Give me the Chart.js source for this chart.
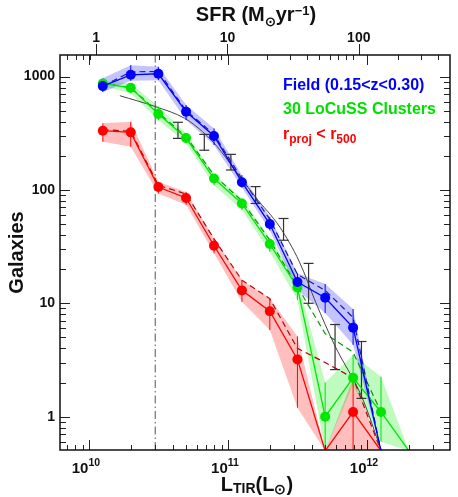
<!DOCTYPE html>
<html>
<head>
<meta charset="utf-8">
<script src="https://cdn.jsdelivr.net/npm/chart.js@4.4.1/dist/chart.umd.min.js"></script>
<style>
  html, body { margin: 0; padding: 0; background: #fff; }
  canvas { display: block; }
</style>
</head>
<body>
<canvas id="lirChart" width="458" height="497"></canvas>
<script>
// L_TIR bin centres (L_sun)
const lirBins = [1.26e10, 2.0e10, 3.16e10, 5.0e10, 7.94e10, 1.26e11, 2.0e11, 3.16e11, 5.0e11, 7.94e11, 1.26e12, 2.0e12];

// Field (0.15<z<0.30) - blue
const fieldN    = [824, 1037, 1059, 489, 299, 117, 50, 15.4, 11.2, 6.1, 0];
const fieldHi   = [968, 1260, 1220, 561, 349, 135, 58, 18.4, 14.8, 8.9, 0];
const fieldLo   = [730, 918, 930, 413, 249, 105, 44, 13.1, 8.2, 4.3, 0];
const fieldDash = [824, 1100, 1110, 500, 310, 125, 55, 18, 13, 7.5, 0];

// 30 LoCuSS clusters - green
const clusterN    = [871, 797, 467, 287, 126, 76, 33.3, 13.8, 1.0, 2.2, 1.1, 0];
const clusterHi   = [920, 870, 542, 316, 138, 84, 37.4, 16, 2.0, 3.5, 2.25, 0];
const clusterLo   = [820, 711, 413, 258, 110, 66.5, 28.5, 10.7, 0, 1.9, 0.6, 0];
const clusterDash = [871, 800, 480, 295, 135, 80, 36, 14, 5.4, 3.7, 1.1];

// r_proj < r_500 - red
const r500N    = [333, 322, 106, 85, 32.2, 13.0, 8.5, 3.2, 0, 1.1, 0];
const r500Hi   = [387, 399, 118, 96, 37.4, 16, 11, 5.1, 0, 2.2, 0];
const r500Lo   = [266, 240, 93, 74, 27.6, 10.3, 5.8, 1.2, 0, 0, 0];
const r500Dash = [340, 330, 110, 92, 37, 16, 11, 4.0, 3.0, 2.2, 0];

// black error bars
const refBins = [4.37e10, 6.76e10, 1.05e11, 1.58e11, 2.51e11, 3.80e11, 5.89e11, 9.12e11];
const refLo   = [285, 224, 150, 76, 36, 10, 2.6, 1.45];
const refHi   = [395, 309, 206, 107, 56, 22.5, 6.5, 4.6];

// black smooth curve
const fitL = [1.67e10, 3.0e10, 4.89e10, 6.58e10, 8.4e10, 1.10e11, 1.57e11, 2.36e11, 3.26e11, 4.29e11, 5.83e11, 9.16e11, 1.27e12];
const fitN = [678, 544, 428, 326, 240, 155, 87, 47, 23.3, 10.1, 4.3, 1.5, 0.5];

// completeness limit (dash-dot line)
const lirLimit = 3.0e10;

// axis ranges and tick labels
const lirMin = 6.2e9, lirMax = 3.95e12;
const sfrMin = 0.531, sfrMax = 495;
const nMin = 0.508, nMax = 1550;
const lirTickValues = [1e10, 1e11, 1e12];
const lirTickExps = ['10', '11', '12'];
const zeroLevel = 0.5;   // empty bins drawn on the bottom axis

const FONT = '"Liberation Sans", Arial, Helvetica, sans-serif';

function mant(v) {
  const e = Math.floor(Math.log10(v) + 1e-9);
  return v / Math.pow(10, e);
}
function niceTick(v) {
  const m = mant(v);
  return Math.abs(m - Math.round(m)) < 1e-6 && Math.round(m) >= 1 && Math.round(m) <= 9;
}
function isPow10(v) {
  return niceTick(v) && Math.round(mant(v)) === 1;
}

const pts = (xs, ys) => ys.map((y, i) => ({ x: xs[i], y: y > 0 ? y : zeroLevel }));
const radii = ys => ys.map(y => y > 0 ? 5 : 0);
function errSegs(xs, lo, hi, vals) {
  const out = [];
  xs.forEach((x, i) => {
    if (vals && !(vals[i] > 0)) return;
    out.push({ x, y: lo[i] > 0 ? lo[i] : zeroLevel }, { x, y: hi[i] > 0 ? hi[i] : zeroLevel }, { x, y: null });
  });
  return out;
}

function seriesSets(vals, hi, lo, dash, col, dashCol, bandCol) {
  const xs = lirBins.slice(0, vals.length);
  return [
    { data: pts(xs, hi), fill: '+1', backgroundColor: bandCol, borderColor: 'rgba(0,0,0,0)', borderWidth: 1, pointRadius: 0, order: 10 },
    { data: pts(xs, lo), fill: false, borderColor: 'rgba(0,0,0,0)', borderWidth: 1, pointRadius: 0, order: 10 },
    { data: pts(lirBins.slice(0, dash.length), dash), borderColor: dashCol, borderDash: [6, 4], borderWidth: 1.2, pointRadius: 0, order: 6 },
    { data: errSegs(xs, lo, hi, vals), borderColor: col, borderWidth: 1, pointRadius: 0, spanGaps: false, order: 3 },
    { data: pts(xs, vals), borderColor: col, backgroundColor: col, borderWidth: 1.3, pointRadius: radii(vals), pointBorderWidth: 0, order: 1 }
  ];
}

function drawRuns(ctx, runs, x, y) {
  runs.forEach(([t, size, dy]) => {
    ctx.font = 'bold ' + size + 'px ' + FONT;
    ctx.fillText(t, x, y + dy);
    x += ctx.measureText(t).width;
  });
}
function runsWidth(ctx, runs) {
  let w = 0;
  runs.forEach(([t, size]) => {
    ctx.font = 'bold ' + size + 'px ' + FONT;
    w += ctx.measureText(t).width;
  });
  return w;
}

// frame, inward ticks, superscript labels, titles and legend text
const decorPlugin = {
  id: 'decor',
  afterDraw(chart) {
    const { ctx, chartArea: a, scales } = chart;
    ctx.save();
    ctx.strokeStyle = '#222';
    ctx.lineWidth = 1;
    const seg = (x1, y1, x2, y2) => { ctx.beginPath(); ctx.moveTo(x1, y1); ctx.lineTo(x2, y2); ctx.stroke(); };

    scales.y.ticks.forEach(t => {
      if (!niceTick(t.value)) return;
      const len = isPow10(t.value) ? 10 : 6;
      const py = Math.round(scales.y.getPixelForValue(t.value)) + 0.5;
      seg(a.left, py, a.left + len, py);
      seg(a.right, py, a.right - len, py);
    });
    scales.x.ticks.forEach(t => {
      if (!niceTick(t.value)) return;
      const major = isPow10(t.value);
      const px = Math.round(scales.x.getPixelForValue(t.value)) + 0.5;
      seg(px, a.bottom, px, a.bottom - (major ? 10 : 5));
      if (major) seg(px, a.top, px, a.top + 10);
    });
    scales.x2.ticks.forEach(t => {
      if (!niceTick(t.value)) return;
      const px = Math.round(scales.x2.getPixelForValue(t.value)) + 0.5;
      if (isPow10(t.value)) seg(px, a.top, px, a.top - 11);
      else seg(px, a.top, px, a.top + 5);
    });
    ctx.lineWidth = 1.5;
    ctx.strokeStyle = '#111';
    ctx.strokeRect(a.left, a.top, a.right - a.left, a.bottom - a.top);

    ctx.fillStyle = '#111';
    ctx.textBaseline = 'alphabetic';
    ctx.textAlign = 'left';
    lirTickValues.forEach((v, i) => {
      const runs = [['10', 15, 0], [lirTickExps[i], 10.5, -7]];
      const w = runsWidth(ctx, runs);
      drawRuns(ctx, runs, scales.x.getPixelForValue(v) - w / 2 - 3, 473);
    });

    const cx = (a.left + a.right) / 2;
    const bottomTitle = [['L', 20, 0], ['TIR', 14, 2], ['(L', 20, 0], ['\u2299', 14, 3], [')', 20, 0]];
    drawRuns(ctx, bottomTitle, cx + 2 - runsWidth(ctx, bottomTitle) / 2, 491);
    const topTitle = [['SFR (M', 20, 0], ['\u2299', 13, 5], ['yr', 20, 0], ['\u22121', 13, -6], [')', 20, 0]];
    drawRuns(ctx, topTitle, cx + 1 - runsWidth(ctx, topTitle) / 2, 21);

    ctx.save();
    ctx.translate(23, (a.top + a.bottom) / 2);
    ctx.rotate(-Math.PI / 2);
    ctx.textAlign = 'center';
    ctx.font = 'bold 20px ' + FONT;
    ctx.fillText('Galaxies', 0, 0);
    ctx.restore();

    ctx.fillStyle = '#0000ff';
    drawRuns(ctx, [['Field (0.15<z<0.30)', 16, 0]], 283, 90);
    ctx.fillStyle = '#00e000';
    drawRuns(ctx, [['30 LoCuSS Clusters', 16, 0]], 283, 114);
    ctx.fillStyle = '#ff0000';
    drawRuns(ctx, [['r', 16, 0], ['proj', 12, 4], [' < r', 16, 0], ['500', 12, 4]], 283, 139);
    ctx.restore();
  }
};

document.addEventListener('DOMContentLoaded', function() {
  const ctx = document.getElementById('lirChart').getContext('2d');
  const tickFont = { family: FONT, size: 14, weight: 'bold' };

  const datasets = [].concat(
    seriesSets(fieldN, fieldHi, fieldLo, fieldDash, '#0000ff', '#1a1aa8', 'rgba(40,40,255,0.28)'),
    seriesSets(clusterN, clusterHi, clusterLo, clusterDash, '#00e600', '#009a00', 'rgba(0,235,0,0.25)'),
    seriesSets(r500N, r500Hi, r500Lo, r500Dash, '#ff0000', '#b40000', 'rgba(255,0,0,0.25)'),
    [
      { data: [{ x: lirLimit, y: nMin }, { x: lirLimit, y: nMax }], borderColor: '#555', borderWidth: 1, borderDash: [8, 3, 1.5, 3], pointRadius: 0, order: 9 },
      { data: pts(fitL, fitN), borderColor: '#444', borderWidth: 1, pointRadius: 0, cubicInterpolationMode: 'monotone', order: 5 },
      { data: errSegs(refBins, refLo, refHi), borderColor: '#333', borderWidth: 1.2, spanGaps: false,
        pointStyle: 'line', pointRadius: 5, pointBorderColor: '#333', pointBorderWidth: 1.2, order: 4 }
    ]
  );

  new Chart(ctx, {
    type: 'line',
    data: { datasets: datasets },
    options: {
      responsive: false,
      animation: false,
      events: [],
      layout: { padding: { left: 0, right: 2, top: 0, bottom: 0 } },
      plugins: { legend: { display: false }, tooltip: { enabled: false } },
      elements: { line: { tension: 0 } },
      scales: {
        x: {
          type: 'logarithmic', position: 'bottom', min: lirMin, max: lirMax,
          grid: { display: false, drawTicks: false }, border: { display: false },
          ticks: { display: false },
          afterFit: s => { s.height = 47; }
        },
        x2: {
          type: 'logarithmic', position: 'top', min: sfrMin, max: sfrMax,
          grid: { display: false, drawTicks: false }, border: { display: false },
          ticks: { autoSkip: false, maxRotation: 0, padding: 8, color: '#111', font: tickFont,
                   callback: v => isPow10(v) ? String(Math.round(v)) : '' },
          afterFit: s => { s.height = 55; }
        },
        y: {
          type: 'logarithmic', position: 'left', min: nMin, max: nMax,
          grid: { display: false, drawTicks: false }, border: { display: false },
          ticks: { autoSkip: false, padding: 5, color: '#111', font: tickFont,
                   callback: v => isPow10(v) ? String(Math.round(v)) : '' },
          afterFit: s => { s.width = 60; }
        }
      }
    },
    plugins: [decorPlugin]
  });
});
</script>
</body>
</html>
